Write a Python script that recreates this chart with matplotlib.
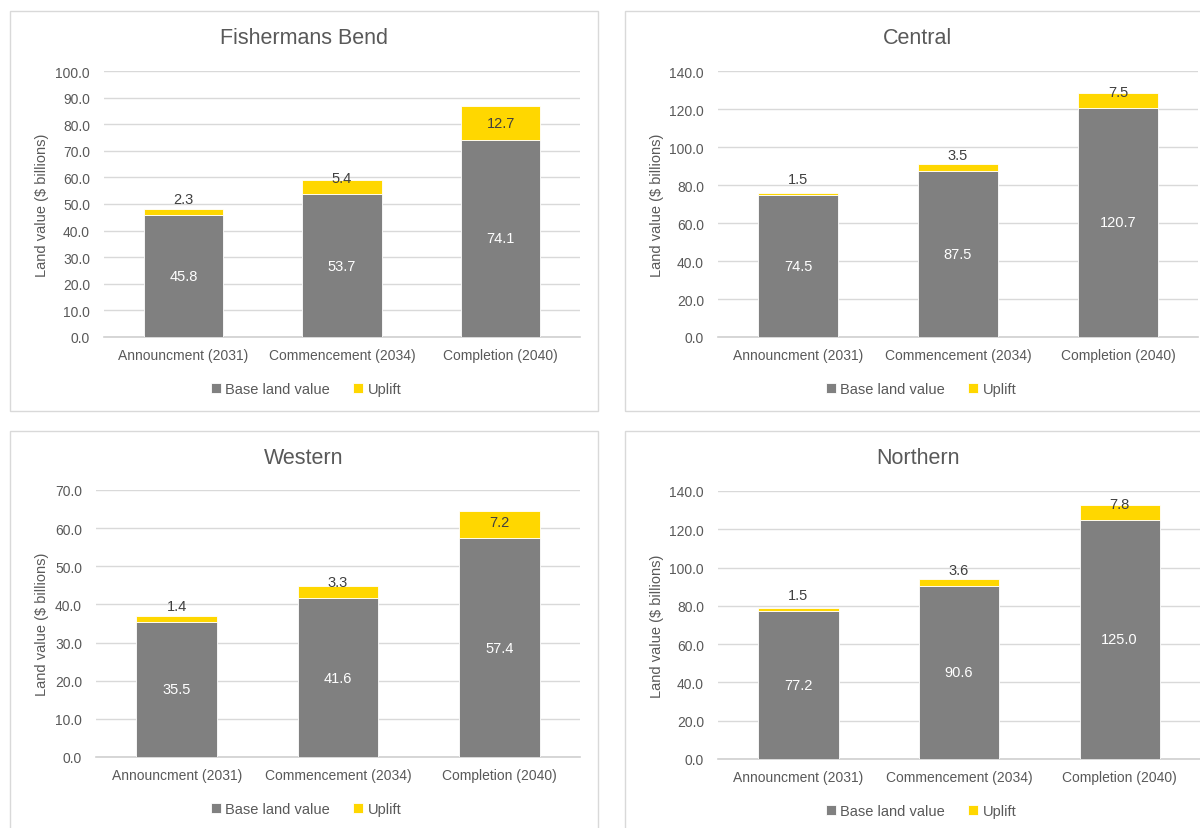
import matplotlib
matplotlib.use("Agg")
import matplotlib.pyplot as plt
from matplotlib import font_manager
from matplotlib.patches import Rectangle

# data
categories = ["Announcment (2031)", "Commencement (2034)", "Completion (2040)"]
regions = ["Fishermans Bend", "Central", "Western", "Northern"]
fb_base = [45.8, 53.7, 74.1]
fb_uplift = [2.3, 5.4, 12.7]
central_base = [74.5, 87.5, 120.7]
central_uplift = [1.5, 3.5, 7.5]
western_base = [35.5, 41.6, 57.4]
western_uplift = [1.4, 3.3, 7.2]
northern_base = [77.2, 90.6, 125.0]
northern_uplift = [1.5, 3.6, 7.8]
y_max = [100, 140, 70, 140]
y_step = [10, 20, 10, 20]

names = {f.name for f in font_manager.fontManager.ttflist}
fam = ["Liberation Sans Narrow"] if "Liberation Sans Narrow" in names else []
plt.rcParams["font.family"] = fam + ["Liberation Sans", "DejaVu Sans"]

W, H = 1200, 829
TXT = "#595959"
GREY = "#808080"
GOLD = "#FFD700"

fig = plt.figure(figsize=(W / 100, H / 100), dpi=100)

# panel boxes (px): left, top, right, bottom
panels = [(10, 12, 598, 412), (625, 12, 1210, 412),
          (10, 432, 598, 840), (625, 432, 1210, 840)]
# axes areas (px): left, top, right, bottom
axes_px = [(104, 72, 580, 338), (718, 72, 1198, 338),
           (96, 491, 580, 758), (718, 492, 1200, 760)]
data = [(fb_base, fb_uplift), (central_base, central_uplift),
        (western_base, western_uplift), (northern_base, northern_uplift)]

for i in range(4):
    pl, pt, pr, pb = panels[i]
    fig.patches.append(Rectangle((pl / W, 1 - pb / H), (pr - pl) / W, (pb - pt) / H,
                                 transform=fig.transFigure, fill=False,
                                 edgecolor="#d9d9d9", linewidth=1))
    l, t, r, b = axes_px[i]
    ax = fig.add_axes([l / W, 1 - b / H, (r - l) / W, (b - t) / H])
    base, up = data[i]
    x = list(range(len(categories)))
    ax.bar(x, base, width=0.5, color=GREY, edgecolor="white", linewidth=0.6,
           label="Base land value", zorder=3)
    ax.bar(x, up, width=0.5, bottom=base, color=GOLD, edgecolor="white", linewidth=0.6,
           label="Uplift", zorder=3)
    ax.set_xlim(-0.5, 2.5)
    ax.set_ylim(0, y_max[i])
    ticks = [k * y_step[i] for k in range(int(y_max[i] / y_step[i]) + 1)]
    ax.set_yticks(ticks)
    ax.set_yticklabels([f"{v:.1f}" for v in ticks])
    ax.set_xticks(x)
    ax.set_xticklabels(categories)
    ax.tick_params(length=0, colors=TXT, labelsize=10)
    ax.tick_params(axis="x", pad=8)
    ax.tick_params(axis="y", pad=10)
    ax.grid(axis="y", color="#d9d9d9", linewidth=1, zorder=0)
    for s in ["top", "right", "left"]:
        ax.spines[s].set_visible(False)
    ax.spines["bottom"].set_color("#d0d0d0")
    ax.spines["bottom"].set_linewidth(1.2)

    px_per_unit = (b - t) / y_max[i]
    for xi, bv, uv in zip(x, base, up):
        ax.text(xi, bv / 2, f"{bv:.1f}", ha="center", va="center",
                color="white", fontsize=10.5, zorder=4)
        off_px = max(uv * px_per_unit / 2, 16)
        ax.annotate(f"{uv:.1f}", (xi, bv), xytext=(0, off_px * 0.72),
                    textcoords="offset points", ha="center", va="center",
                    color="#404040", fontsize=10.5, zorder=4)

    cx = (pl + min(pr, W)) / 2 if i % 2 == 0 else 918
    fig.text(cx / W, 1 - (pt + 27) / H, regions[i], ha="center", va="center",
             fontsize=15.5, color=TXT)
    fig.text((pl + 32) / W, 1 - (t + b) / 2 / H, "Land value ($ billions)",
             rotation=90, ha="center", va="center", fontsize=10.5, color=TXT)
    leg_x = 306 if i % 2 == 0 else 921
    leg_y = b + 52
    fig.legend(*ax.get_legend_handles_labels(), loc="center",
               bbox_to_anchor=(leg_x / W, 1 - leg_y / H), ncol=2, frameon=False,
               fontsize=10.5, labelcolor=TXT, handlelength=0.7, handleheight=0.7,
               handletextpad=0.3, columnspacing=1.6)

plt.savefig("out.png", dpi=100)
